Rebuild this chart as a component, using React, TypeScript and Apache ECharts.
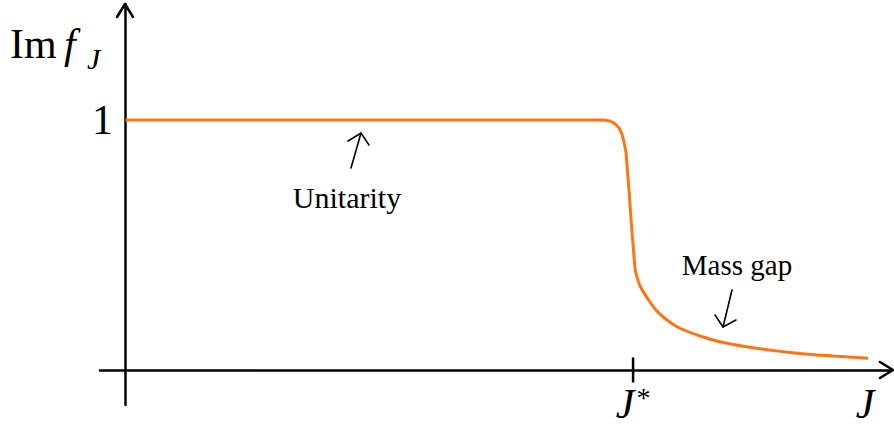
import { useEffect, useRef } from "react";
import * as echarts from "echarts";

// Partial-wave profile: Im f_J against spin J
const spinJ = [
  0, 9.407, 9.545, 9.643, 9.722, 9.781, 9.821, 9.86, 9.919, 9.979, 10.04,
  10.14, 10.33, 10.45, 10.59, 10.75, 10.92, 11.32, 11.71, 12.11, 12.5, 13.23, 13.94, 14.63,
];
const imF = [
  1, 1, 0.996, 0.986, 0.968, 0.944, 0.912, 0.872, 0.72, 0.552, 0.4,
  0.335, 0.273, 0.24, 0.213, 0.188, 0.167, 0.136, 0.113, 0.097, 0.085, 0.067, 0.056, 0.047,
];
// index where the steep drop ends and the mass-gap tail begins
const tailStart = 10;
const jStar = 10;
const tickSpan = [-0.05, 0.05];
const yTicks = [1];

const SERIF = "Liberation Serif";
const ORANGE = "#ff7513";

export default function App() {
  const ref = useRef<HTMLDivElement>(null);

  useEffect(() => {
    const chart = echarts.init(ref.current!, null, { renderer: "svg" });
    const axisLine = { show: true, onZero: true, lineStyle: { color: "#000", width: 2.5 } };
    const points = spinJ.map((j, i) => [j, imF[i]]);
    chart.setOption({
      animation: false,
      grid: { left: 100, right: 2, top: 4, bottom: 25, containLabel: false, outerBoundsMode: "none" },
      xAxis: {
        type: "value",
        min: -0.5,
        max: 15.1,
        axisLine,
        axisTick: { show: false },
        splitLine: { show: false },
        axisLabel: {
          customValues: [jStar],
          margin: -22,
          formatter: () => "{j|J}{s|*}",
          rich: {
            j: { fontFamily: SERIF, fontStyle: "italic", fontSize: 42, color: "#000" },
            s: { fontFamily: SERIF, fontSize: 28, color: "#000", verticalAlign: "top", padding: [0, 0, 14, 2] },
          },
        },
      },
      yAxis: {
        type: "value",
        min: -0.14,
        max: 1.464,
        axisLine,
        axisTick: { show: false },
        splitLine: { show: false },
        axisLabel: {
          customValues: yTicks,
          margin: -13,
          fontFamily: SERIF,
          fontSize: 42,
          color: "#000",
        },
      },
      series: [
        {
          type: "line",
          data: points.slice(0, tailStart + 1),
          showSymbol: false,
          smooth: false,
          lineStyle: { color: ORANGE, width: 3, join: "round" },
          z: 3,
        },
        {
          type: "line",
          data: points.slice(tailStart),
          showSymbol: false,
          smooth: 0.3,
          lineStyle: { color: ORANGE, width: 3 },
          z: 3,
        },
        {
          type: "line",
          data: tickSpan.map((v) => [jStar, v]),
          showSymbol: false,
          lineStyle: { color: "#000", width: 2.5 },
          z: 4,
        },
      ],
      graphic: [
        // axis arrowheads
        {
          type: "polyline",
          shape: { points: [[117, 17], [125, 4], [133, 17]] },
          style: { stroke: "#000", lineWidth: 2.5, fill: "none", lineJoin: "round", lineCap: "round" },
        },
        {
          type: "polyline",
          shape: { points: [[880, 362], [893, 370], [880, 378]] },
          style: { stroke: "#000", lineWidth: 2.5, fill: "none", lineJoin: "round", lineCap: "round" },
        },
        // axis titles
        {
          type: "text",
          x: 10,
          y: 44,
          style: { text: "Im", font: `42px "${SERIF}"`, fill: "#000", verticalAlign: "middle" },
        },
        {
          type: "text",
          x: 64,
          y: 44,
          style: { text: "f", font: `italic 42px "${SERIF}"`, fill: "#000", verticalAlign: "middle" },
        },
        {
          type: "text",
          x: 87,
          y: 58,
          style: { text: "J", font: `italic 30px "${SERIF}"`, fill: "#000", verticalAlign: "middle" },
        },
        {
          type: "text",
          x: 865,
          y: 404,
          style: { text: "J", font: `italic 42px "${SERIF}"`, fill: "#000", align: "center", verticalAlign: "middle" },
        },
        // annotations
        {
          type: "text",
          x: 347,
          y: 197,
          style: { text: "Unitarity", font: `30px "${SERIF}"`, fill: "#000", align: "center", verticalAlign: "middle" },
        },
        {
          type: "line",
          shape: { x1: 351, y1: 168, x2: 361, y2: 133 },
          style: { stroke: "#000", lineWidth: 1.6, lineCap: "round" },
        },
        {
          type: "polyline",
          shape: { points: [[348, 141], [361, 133], [369, 145]] },
          style: { stroke: "#000", lineWidth: 1.6, fill: "none", lineCap: "round" },
        },
        {
          type: "text",
          x: 737,
          y: 265,
          style: { text: "Mass gap", font: `29px "${SERIF}"`, fill: "#000", align: "center", verticalAlign: "middle" },
        },
        {
          type: "line",
          shape: { x1: 732, y1: 290, x2: 723, y2: 327 },
          style: { stroke: "#000", lineWidth: 1.6, lineCap: "round" },
        },
        {
          type: "polyline",
          shape: { points: [[715, 315], [723, 327], [736, 320]] },
          style: { stroke: "#000", lineWidth: 1.6, fill: "none", lineCap: "round" },
        },
      ],
    });
    return () => chart.dispose();
  }, []);

  return (
    <div
      ref={ref}
      style={{ position: "fixed", left: 0, top: 0, width: 894, height: 430, background: "#fff" }}
    />
  );
}
